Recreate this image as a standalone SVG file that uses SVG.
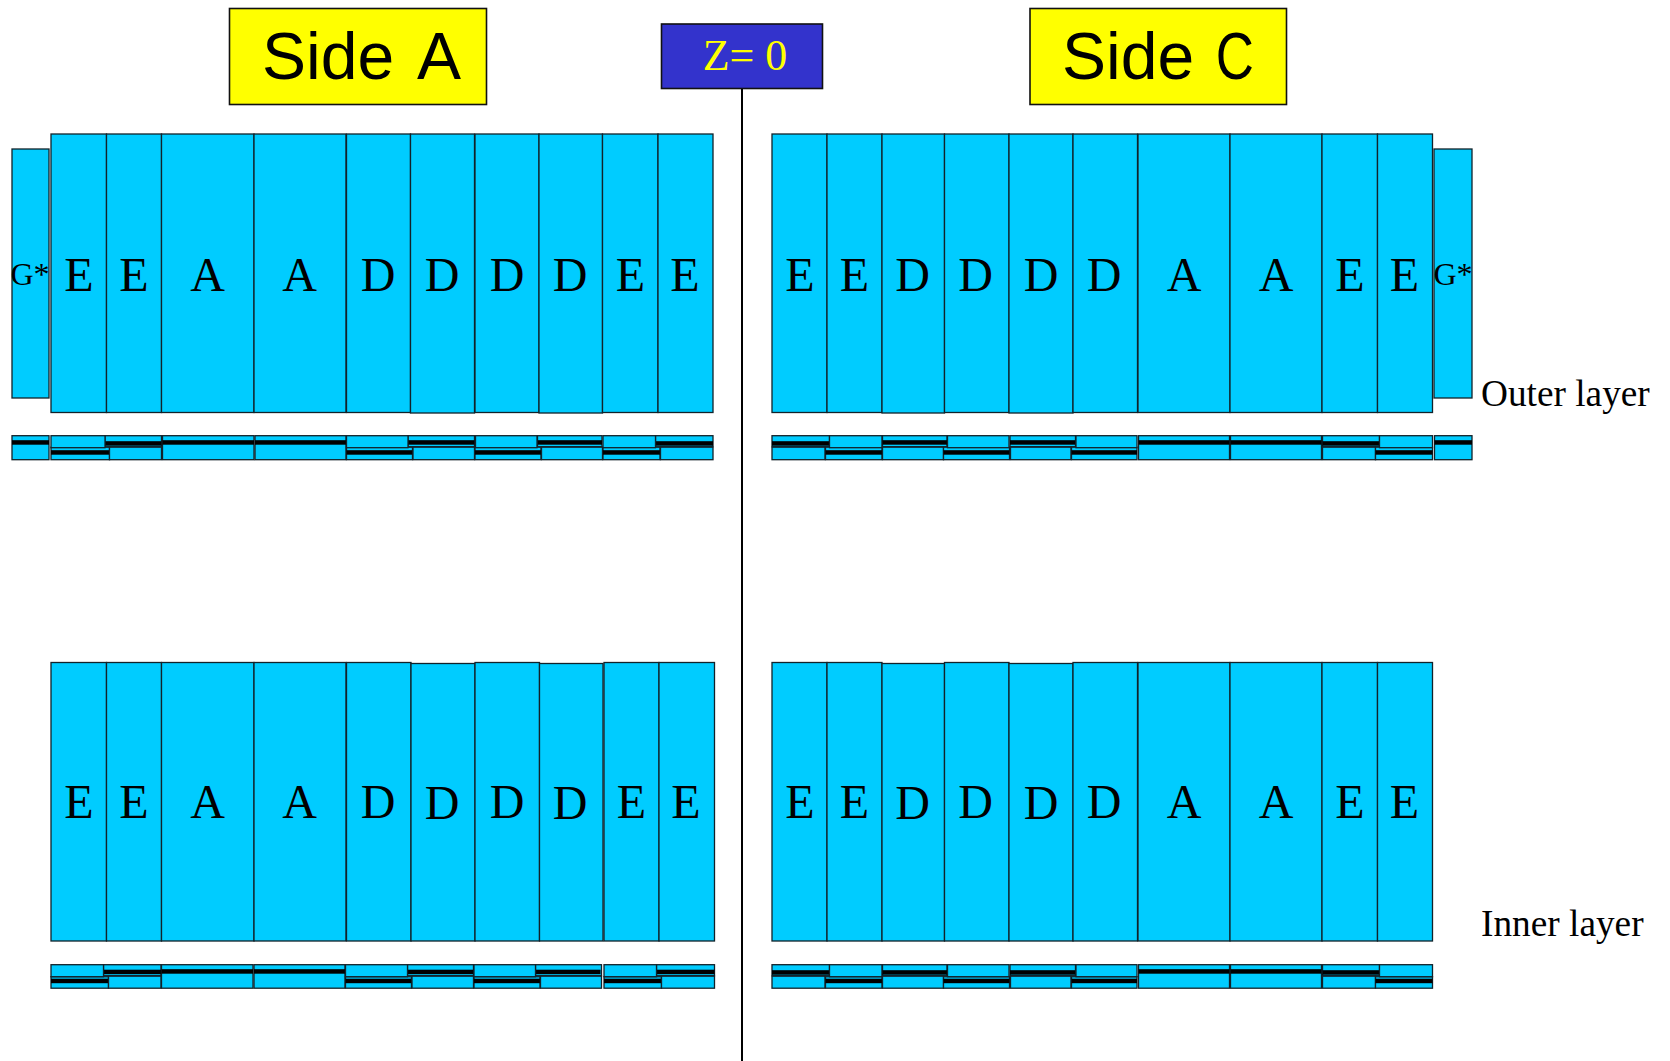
<svg xmlns="http://www.w3.org/2000/svg" width="1670" height="1061" viewBox="0 0 1670 1061">
<style>
rect{fill:#00ccff;stroke:#12222a;stroke-width:1.3}
rect.b{fill:#000;stroke:none}
rect.y{fill:#ffff00;stroke:#111;stroke-width:1.6}
rect.z{fill:#3333cc;stroke:#111;stroke-width:1.6}
text{font-family:"Liberation Serif","Times New Roman",serif;text-anchor:middle;fill:#000}
.p{font-size:48px}
.g{font-size:32px}
.l{font-size:37.300px;text-anchor:start}
.s{font-family:"Liberation Sans",Arial,sans-serif;font-size:66px;text-anchor:start}
.zt{font-size:44px;fill:#ffff00}
</style>
<g id="connectors"><line x1="742" y1="88" x2="742" y2="1061" stroke="#000" stroke-width="2"/></g>
<g id="side-a"><rect class="y" x="229.500" y="8.500" width="257" height="96"/><text class="s" x="262" y="78.500">Side</text><text class="s" x="417" y="78.500">A</text></g>
<g id="side-c"><rect class="y" x="1030" y="8.500" width="256.500" height="96"/><text class="s" x="1062" y="78.500">Side</text><text class="s" transform="translate(1215.700 78.500) scale(0.8 1)">C</text></g>
<g id="z0"><rect class="z" x="661.500" y="24" width="161" height="64.500"/><text class="zt" x="745" y="70">Z= 0</text></g>
<g id="outer-label"><text class="l" x="1481" y="406">Outer layer</text></g>
<g id="inner-label"><text class="l" x="1481" y="936">Inner layer</text></g>

<g id="outer-a-panels">
<g id="oa-g"><rect x="12" y="149" width="37" height="249"/><text class="g" x="30" y="285">G*</text></g>
<g id="oa-1"><rect x="51" y="134" width="55.500" height="278.500"/><text class="p" x="79" y="291">E</text></g>
<g id="oa-2"><rect x="106.500" y="134" width="55" height="278.500"/><text class="p" x="134" y="291">E</text></g>
<g id="oa-3"><rect x="161.500" y="134" width="92.500" height="278.500"/><text class="p" x="207.500" y="291">A</text></g>
<g id="oa-4"><rect x="254" y="134" width="92" height="278.500"/><text class="p" x="299.500" y="291">A</text></g>
<g id="oa-5"><rect x="346.500" y="134" width="64" height="278.500"/><text class="p" x="378" y="291">D</text></g>
<g id="oa-6"><rect x="410.500" y="134" width="64" height="279"/><text class="p" x="442" y="291">D</text></g>
<g id="oa-7"><rect x="475" y="134" width="64" height="278.500"/><text class="p" x="507" y="291">D</text></g>
<g id="oa-8"><rect x="539" y="134" width="63.500" height="279"/><text class="p" x="570" y="291">D</text></g>
<g id="oa-9"><rect x="602.500" y="134" width="55.500" height="278.500"/><text class="p" x="630.500" y="291">E</text></g>
<g id="oa-10"><rect x="658" y="134" width="55" height="278.500"/><text class="p" x="685" y="291">E</text></g>
</g>

<g id="outer-c-panels">
<g id="oc-1"><rect x="772" y="134" width="55" height="278.500"/><text class="p" x="800" y="291">E</text></g>
<g id="oc-2"><rect x="827" y="134" width="55" height="278.500"/><text class="p" x="854.500" y="291">E</text></g>
<g id="oc-3"><rect x="882" y="134" width="62.500" height="279"/><text class="p" x="912.500" y="291">D</text></g>
<g id="oc-4"><rect x="944.500" y="134" width="64.500" height="278.500"/><text class="p" x="975.500" y="291">D</text></g>
<g id="oc-5"><rect x="1009" y="134" width="64" height="279"/><text class="p" x="1041" y="291">D</text></g>
<g id="oc-6"><rect x="1073" y="134" width="64.500" height="278.500"/><text class="p" x="1104" y="291">D</text></g>
<g id="oc-7"><rect x="1138" y="134" width="92" height="278.500"/><text class="p" x="1184" y="291">A</text></g>
<g id="oc-8"><rect x="1230" y="134" width="92" height="278.500"/><text class="p" x="1276" y="291">A</text></g>
<g id="oc-9"><rect x="1322" y="134" width="55.500" height="278.500"/><text class="p" x="1350" y="291">E</text></g>
<g id="oc-10"><rect x="1377.500" y="134" width="55" height="278.500"/><text class="p" x="1404.500" y="291">E</text></g>
<g id="oc-g"><rect x="1434" y="149" width="38" height="249"/><text class="g" x="1453" y="284.500">G*</text></g>
</g>

<g id="inner-a-panels">
<g id="ia-1"><rect x="51" y="662.500" width="55.500" height="278.500"/><text class="p" x="79" y="818">E</text></g>
<g id="ia-2"><rect x="106.500" y="662.500" width="55" height="278.500"/><text class="p" x="134" y="818">E</text></g>
<g id="ia-3"><rect x="161.500" y="662.500" width="92.500" height="278.500"/><text class="p" x="207.500" y="818">A</text></g>
<g id="ia-4"><rect x="254" y="662.500" width="92" height="278.500"/><text class="p" x="299.500" y="818">A</text></g>
<g id="ia-5"><rect x="346.500" y="662.500" width="64.500" height="278.500"/><text class="p" x="378" y="818">D</text></g>
<g id="ia-6"><rect x="411" y="663.500" width="64" height="277.500"/><text class="p" x="442" y="819">D</text></g>
<g id="ia-7"><rect x="475" y="662.500" width="64.500" height="278.500"/><text class="p" x="507" y="818">D</text></g>
<g id="ia-8"><rect x="539.500" y="663.500" width="63.500" height="277.500"/><text class="p" x="570" y="819">D</text></g>
<g id="ia-9"><rect x="604" y="662.500" width="55" height="278.500"/><text class="p" x="631.500" y="818">E</text></g>
<g id="ia-10"><rect x="659" y="662.500" width="55.500" height="278.500"/><text class="p" x="686" y="818">E</text></g>
</g>

<g id="inner-c-panels">
<g id="ic-1"><rect x="772" y="662.500" width="55" height="278.500"/><text class="p" x="800" y="818">E</text></g>
<g id="ic-2"><rect x="827" y="662.500" width="55" height="278.500"/><text class="p" x="854.500" y="818">E</text></g>
<g id="ic-3"><rect x="882" y="663.500" width="62.500" height="277.500"/><text class="p" x="912.500" y="819">D</text></g>
<g id="ic-4"><rect x="944.500" y="662.500" width="64.500" height="278.500"/><text class="p" x="975.500" y="818">D</text></g>
<g id="ic-5"><rect x="1009" y="663.500" width="64" height="277.500"/><text class="p" x="1041" y="819">D</text></g>
<g id="ic-6"><rect x="1073" y="662.500" width="64.500" height="278.500"/><text class="p" x="1104" y="818">D</text></g>
<g id="ic-7"><rect x="1138" y="662.500" width="92" height="278.500"/><text class="p" x="1184" y="818">A</text></g>
<g id="ic-8"><rect x="1230" y="662.500" width="92" height="278.500"/><text class="p" x="1276" y="818">A</text></g>
<g id="ic-9"><rect x="1322" y="662.500" width="55.500" height="278.500"/><text class="p" x="1350" y="818">E</text></g>
<g id="ic-10"><rect x="1377.500" y="662.500" width="55" height="278.500"/><text class="p" x="1404.500" y="818">E</text></g>
</g>

<g id="outer-a-strip" transform="translate(0 -0.800)">
<rect x="12" y="436.500" width="37" height="24"/><rect class="b" x="12" y="441" width="37" height="4.500"/>
<rect x="51" y="448" width="58.500" height="12.500"/><rect class="b" x="51" y="451" width="58.500" height="4.500"/>
<rect x="105" y="436.500" width="56.500" height="11"/><rect class="b" x="105" y="442" width="56.500" height="4.500"/>
<rect x="109.500" y="448" width="52" height="12.500"/>
<rect x="51" y="436.500" width="54" height="12"/>
<rect x="162.500" y="436.500" width="91.500" height="24"/><rect class="b" x="162.500" y="441" width="91.500" height="4.500"/>
<rect x="255" y="436.500" width="91" height="24"/><rect class="b" x="255" y="441" width="91" height="4.500"/>
<rect x="346.500" y="448" width="66" height="12.500"/><rect class="b" x="346.500" y="451" width="66" height="4.500"/>
<rect x="408" y="436.500" width="66.500" height="11"/><rect class="b" x="408" y="441" width="66.500" height="4.500"/>
<rect x="413" y="448" width="61.500" height="12.500"/>
<rect x="346.500" y="436.500" width="61.500" height="12"/>
<rect x="475" y="448" width="66" height="12.500"/><rect class="b" x="475" y="451" width="66" height="4.500"/>
<rect x="537.500" y="436.500" width="64.500" height="11"/><rect class="b" x="537.500" y="441" width="64.500" height="4.500"/>
<rect x="541.500" y="448" width="61" height="12.500"/>
<rect x="475.500" y="436.500" width="61.500" height="12"/>
<rect x="603" y="448" width="57" height="12.500"/><rect class="b" x="603" y="451" width="57" height="4.500"/>
<rect x="655.500" y="436.500" width="57.500" height="11"/><rect class="b" x="655.500" y="442" width="57.500" height="4.500"/>
<rect x="660.500" y="448" width="52.500" height="12.500"/>
<rect x="603" y="436.500" width="52.500" height="12"/>
</g>

<g id="outer-c-strip" transform="translate(0 -0.800)">
<rect x="772" y="436.500" width="57.500" height="11"/><rect class="b" x="772" y="442" width="57.500" height="4.500"/>
<rect x="772" y="448" width="53" height="12.500"/>
<rect x="825.500" y="448" width="56.500" height="12.500"/><rect class="b" x="825.500" y="451" width="56.500" height="4.500"/>
<rect x="829.500" y="436.500" width="52.500" height="12"/>
<rect x="882.500" y="436.500" width="64.500" height="11"/><rect class="b" x="882.500" y="441" width="64.500" height="4.500"/>
<rect x="882.500" y="448" width="61" height="12.500"/>
<rect x="943.500" y="448" width="66" height="12.500"/><rect class="b" x="943.500" y="451" width="66" height="4.500"/>
<rect x="947.500" y="436.500" width="61.500" height="12"/>
<rect x="1010" y="436.500" width="65.500" height="11"/><rect class="b" x="1010" y="441" width="65.500" height="4.500"/>
<rect x="1010.500" y="448" width="60.500" height="12.500"/>
<rect x="1071.500" y="448" width="65.500" height="12.500"/><rect class="b" x="1071.500" y="451" width="65.500" height="4.500"/>
<rect x="1076" y="436.500" width="61" height="12"/>
<rect x="1138.500" y="436.500" width="91" height="24"/><rect class="b" x="1138.500" y="441" width="91" height="4.500"/>
<rect x="1230.500" y="436.500" width="91" height="24"/><rect class="b" x="1230.500" y="441" width="91" height="4.500"/>
<rect x="1322.500" y="436.500" width="57" height="11"/><rect class="b" x="1322.500" y="442" width="57" height="4.500"/>
<rect x="1322.500" y="448" width="53" height="12.500"/>
<rect x="1375.500" y="448" width="57" height="12.500"/><rect class="b" x="1375.500" y="451" width="57" height="4.500"/>
<rect x="1379.500" y="436.500" width="53" height="12"/>
<rect x="1434.500" y="436.500" width="37.500" height="24"/><rect class="b" x="1434.500" y="441" width="37.500" height="4.500"/>
</g>

<g id="inner-a-strip" transform="translate(0 -0.800)">
<rect x="51" y="977.500" width="57.500" height="11.500"/><rect class="b" x="51" y="979.500" width="57.500" height="4.500"/>
<rect x="103.500" y="965.500" width="57.500" height="11"/><rect class="b" x="103.500" y="970.500" width="57.500" height="4.500"/>
<rect x="108.500" y="977" width="52.500" height="12"/>
<rect x="51" y="965.500" width="52.500" height="12"/>
<rect x="161.500" y="965.500" width="91.500" height="23.500"/><rect class="b" x="161.500" y="970" width="91.500" height="4.500"/>
<rect x="254" y="965.500" width="91" height="23.500"/><rect class="b" x="254" y="970" width="91" height="4.500"/>
<rect x="345.500" y="977.500" width="66" height="11.500"/><rect class="b" x="345.500" y="979.500" width="66" height="4.500"/>
<rect x="407.500" y="965.500" width="66" height="11"/><rect class="b" x="407.500" y="970.500" width="66" height="4.500"/>
<rect x="412" y="977" width="61.500" height="12"/>
<rect x="345.500" y="965.500" width="62" height="12"/>
<rect x="474" y="977.500" width="66" height="11.500"/><rect class="b" x="474" y="979.500" width="66" height="4.500"/>
<rect x="535.500" y="965.500" width="66" height="11"/><rect class="b" x="535.500" y="970.500" width="65" height="4.500"/>
<rect x="540.500" y="977" width="61" height="12"/>
<rect x="474" y="965.500" width="61.500" height="12"/>
<rect x="604" y="977.500" width="57.500" height="11.500"/><rect class="b" x="604" y="979.500" width="57.500" height="4.500"/>
<rect x="656.500" y="965.500" width="58" height="11"/><rect class="b" x="656.500" y="970.500" width="58" height="4.500"/>
<rect x="661.500" y="977" width="53" height="12"/>
<rect x="604" y="965.500" width="52.500" height="12"/>
</g>

<g id="inner-c-strip" transform="translate(0 -0.800)">
<rect x="772" y="965.500" width="57.500" height="11"/><rect class="b" x="772" y="971" width="57.500" height="4.500"/>
<rect x="772" y="977" width="53" height="12"/>
<rect x="825.500" y="977.500" width="56.500" height="11.500"/><rect class="b" x="825.500" y="979.500" width="56.500" height="4.500"/>
<rect x="829.500" y="965.500" width="52.500" height="12"/>
<rect x="882.500" y="965.500" width="64.500" height="11"/><rect class="b" x="882.500" y="971" width="64.500" height="4.500"/>
<rect x="882.500" y="977" width="61" height="12"/>
<rect x="943.500" y="977.500" width="66" height="11.500"/><rect class="b" x="943.500" y="979.500" width="66" height="4.500"/>
<rect x="947.500" y="965.500" width="61.500" height="12"/>
<rect x="1010" y="965.500" width="65.500" height="11"/><rect class="b" x="1010" y="971" width="65.500" height="4.500"/>
<rect x="1010.500" y="977" width="60.500" height="12"/>
<rect x="1071.500" y="977.500" width="65.500" height="11.500"/><rect class="b" x="1071.500" y="979.500" width="65.500" height="4.500"/>
<rect x="1076" y="965.500" width="61" height="12"/>
<rect x="1138.500" y="965.500" width="91" height="23.500"/><rect class="b" x="1138.500" y="970" width="91" height="4.500"/>
<rect x="1230.500" y="965.500" width="91" height="23.500"/><rect class="b" x="1230.500" y="970" width="91" height="4.500"/>
<rect x="1322.500" y="965.500" width="57" height="11"/><rect class="b" x="1322.500" y="971" width="57" height="4.500"/>
<rect x="1322.500" y="977" width="53" height="12"/>
<rect x="1375.500" y="977.500" width="57" height="11.500"/><rect class="b" x="1375.500" y="979.500" width="57" height="4.500"/>
<rect x="1379.500" y="965.500" width="53" height="12"/>
</g>
</svg>
